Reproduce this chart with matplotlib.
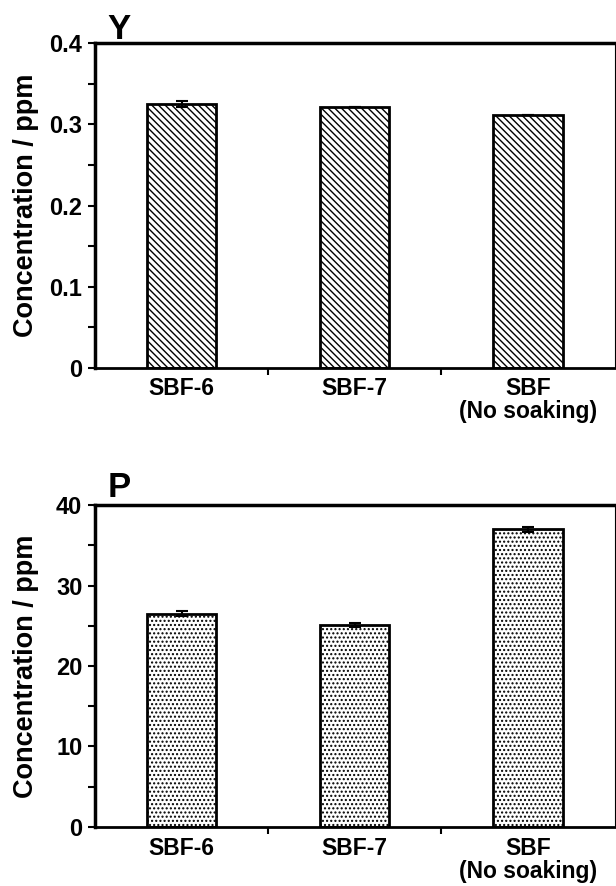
import matplotlib
matplotlib.use("Agg")
import matplotlib.pyplot as plt
import numpy as np

# ==============================
# DATOS
# ==============================

categorias = ["SBF-6", "SBF-7", "SBF\n(No soaking)"]

y_valores = [0.325, 0.322, 0.312]
y_errores = [0.004, 0.0, 0.0]

p_valores = [26.5, 25.1, 37.0]
p_errores = [0.3, 0.3, 0.3]

plt.rcParams["font.family"] = ["Liberation Sans", "DejaVu Sans"]
plt.rcParams["font.weight"] = "bold"
plt.rcParams["hatch.linewidth"] = 1.0


def panel(ax, valores, errores, hatch, ymax, paso, menor, fmt, letra, dy):
    x = np.arange(len(categorias))
    ax.bar(x, valores, width=0.4, color="white", edgecolor="black",
           linewidth=2, hatch=hatch, zorder=2)
    ax.errorbar(x, valores, yerr=errores, fmt="none", ecolor="black",
                elinewidth=1.5, capsize=4, capthick=1.5, zorder=3)

    ax.set_xlim(-0.5, 2.5)
    ax.set_ylim(0, ymax)
    ax.set_yticks(np.arange(0, ymax + paso / 2, paso))
    ax.set_yticks(np.arange(0, ymax + menor / 2, menor), minor=True)
    ax.set_yticklabels([fmt(v) for v in np.arange(0, ymax + paso / 2, paso)])

    ax.set_xticks(x)
    ax.set_xticklabels(categorias, fontsize=16.5, fontweight="bold",
                       linespacing=1.0)
    ax.set_xticks([0.5, 1.5], minor=True)
    ax.tick_params(axis="x", which="major", length=0, pad=7)
    ax.tick_params(axis="x", which="minor", length=5, width=1.5, direction="out")
    ax.tick_params(axis="y", which="major", length=5, width=1.5, labelsize=17, pad=4)
    ax.tick_params(axis="y", which="minor", length=5, width=1.5)

    for lab in ax.get_yticklabels():
        lab.set_fontweight("bold")

    ax.spines["left"].set_linewidth(2.5)
    ax.spines["bottom"].set_linewidth(2)
    ax.spines["top"].set_linewidth(2.5)
    ax.spines["right"].set_linewidth(0.8)

    ax.set_ylabel("Concentration / ppm", fontsize=19.5, fontweight="bold")
    ax.yaxis.set_label_coords(-0.108, 0.5)
    ax.text(0.046, 1 + dy, letra, transform=ax.transAxes, fontsize=25,
            fontweight="bold", ha="center", va="baseline")


fig = plt.figure(figsize=(6.16, 8.86), dpi=100)

ax1 = fig.add_axes([0.154, 0.585, 0.844, 0.366])
panel(ax1, y_valores, y_errores, "\\\\\\\\\\", 0.4, 0.1, 0.05,
      lambda v: "0" if v == 0 else f"{v:.1f}", "Y", 0.015)

ax2 = fig.add_axes([0.154, 0.0666, 0.844, 0.3634])
panel(ax2, p_valores, p_errores, "....", 40, 10, 5,
      lambda v: f"{v:.0f}", "P", 0.025)

fig.savefig("out.png", dpi=100)
